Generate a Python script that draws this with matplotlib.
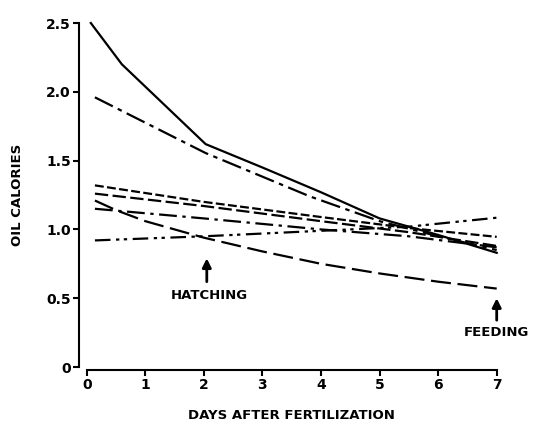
import matplotlib
matplotlib.use('Agg')
import matplotlib.pyplot as plt

# days after fertilization / oil calories
solid_x = [0.07, 0.6, 2.03, 3.0, 4.0, 5.0, 6.0, 7.0]
solid_y = [2.50, 2.20, 1.62, 1.45, 1.27, 1.08, 0.96, 0.83]

dashdot_long_x = [0.14, 2.03, 3.81, 5.0, 6.0, 7.0]
dashdot_long_y = [1.96, 1.555, 1.24, 1.06, 0.95, 0.85]

short_dash_x = [0.14, 2.0, 4.0, 5.5, 7.0]
short_dash_y = [1.32, 1.20, 1.09, 1.01, 0.946]

dash_x = [0.14, 2.0, 4.0, 5.5, 7.0]
dash_y = [1.26, 1.17, 1.06, 0.98, 0.88]

dashdot_x = [0.14, 2.0, 4.0, 5.5, 7.0]
dashdot_y = [1.15, 1.08, 1.00, 0.95, 0.87]

long_dash_x = [0.14, 0.5, 1.0, 2.0, 3.0, 4.0, 5.0, 6.0, 7.0]
long_dash_y = [1.21, 1.14, 1.06, 0.94, 0.84, 0.75, 0.68, 0.62, 0.57]

dashdotdot_x = [0.14, 2.0, 4.0, 5.5, 7.0]
dashdotdot_y = [0.92, 0.95, 0.99, 1.02, 1.085]

xticks = [0, 1, 2, 3, 4, 5, 6, 7]
yticks = [0, 0.5, 1.0, 1.5, 2.0, 2.5]
ytick_labels = ['0', '0.5', '1.0', '1.5', '2.0', '2.5']

plt.rcParams['font.family'] = 'DejaVu Sans'
plt.rcParams['font.weight'] = 'bold'

fig = plt.figure(figsize=(5.33, 4.24), dpi=100)
ax = fig.add_axes([0.1627, 0.1344, 0.7692, 0.8113])

lw = 1.6
ax.plot(solid_x, solid_y, color='k', lw=lw, clip_on=False)
ax.plot(dashdot_long_x, dashdot_long_y, color='k', lw=lw, dashes=(9, 2.5, 2, 2.5), clip_on=False)
ax.plot(short_dash_x, short_dash_y, color='k', lw=lw, dashes=(4, 1.5))
ax.plot(dash_x, dash_y, color='k', lw=lw, dashes=(6, 2))
ax.plot(dashdot_x, dashdot_y, color='k', lw=lw, dashes=(8, 2.5, 1.5, 2.5))
ax.plot(long_dash_x, long_dash_y, color='k', lw=lw, dashes=(9, 3))
ax.plot(dashdotdot_x, dashdotdot_y, color='k', lw=lw, dashes=(7, 2.5, 1.5, 2, 1.5, 2.5))

# arrows for hatching and feeding
ax.annotate('', xy=(2.05, 0.81), xytext=(2.05, 0.60),
            arrowprops=dict(arrowstyle='-|>', color='k', lw=2, mutation_scale=13))
ax.text(2.1, 0.52, 'HATCHING', ha='center', va='center', fontsize=9.5, fontweight='bold')
ax.annotate('', xy=(7.0, 0.52), xytext=(7.0, 0.32),
            arrowprops=dict(arrowstyle='-|>', color='k', lw=2, mutation_scale=13))
ax.text(7.0, 0.25, 'FEEDING', ha='center', va='center', fontsize=9.5, fontweight='bold')

ax.set_xlim(0, 7)
ax.set_ylim(0, 2.5)
ax.set_xticks(xticks)
ax.set_yticks(yticks)
ax.set_yticklabels(ytick_labels)
ax.spines['top'].set_visible(False)
ax.spines['right'].set_visible(False)
ax.spines['left'].set_position(('outward', 5.5))
ax.spines['bottom'].set_position(('outward', 2.2))
ax.spines['left'].set_linewidth(1.5)
ax.spines['bottom'].set_linewidth(1.5)
ax.tick_params(axis='both', labelsize=10, width=1.5, length=4, pad=2)

ax.set_xlabel('DAYS AFTER FERTILIZATION', fontsize=9.5, fontweight='bold', labelpad=12)
ax.set_ylabel('OIL CALORIES', fontsize=9.5, fontweight='bold', labelpad=16)

plt.savefig('out.png', dpi=100)
